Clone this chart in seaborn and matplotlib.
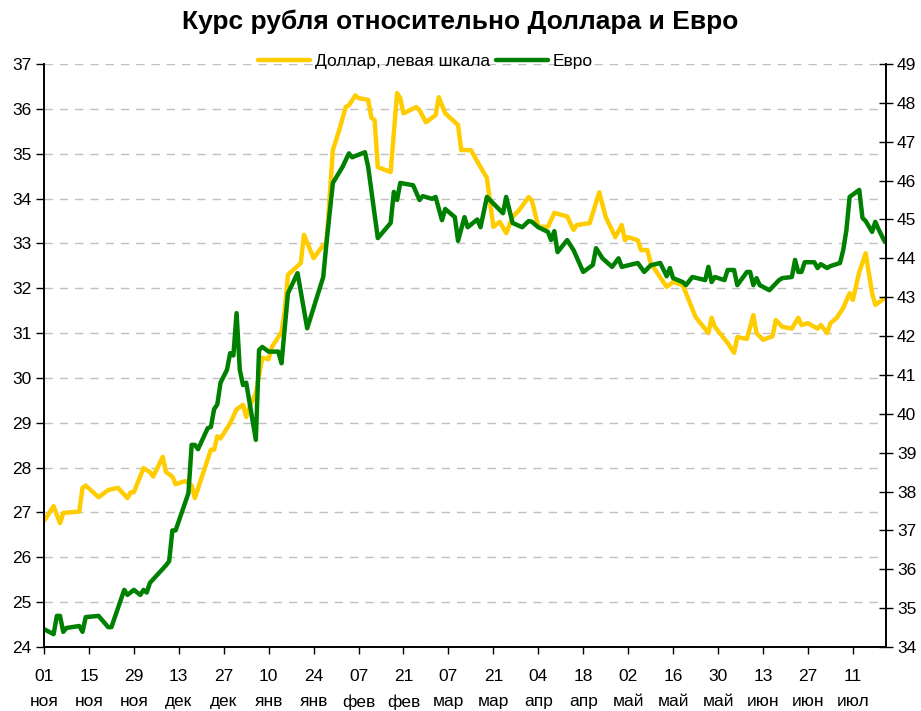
import pandas as pd
import numpy as np
import matplotlib
matplotlib.use('Agg')
import matplotlib.pyplot as plt
import seaborn as sns

# Курс доллара (левая шкала)
usd_dates = ['2008-11-01', '2008-11-04', '2008-11-06', '2008-11-07', '2008-11-12', '2008-11-13',
             '2008-11-14', '2008-11-18', '2008-11-21', '2008-11-24', '2008-11-27', '2008-11-28',
             '2008-11-29', '2008-12-02', '2008-12-04', '2008-12-05', '2008-12-08', '2008-12-09',
             '2008-12-11', '2008-12-12', '2008-12-15', '2008-12-17', '2008-12-18', '2008-12-23',
             '2008-12-24', '2008-12-25', '2008-12-26', '2008-12-29', '2008-12-31', '2009-01-02',
             '2009-01-03', '2009-01-04', '2009-01-06', '2009-01-08', '2009-01-10', '2009-01-11',
             '2009-01-14', '2009-01-15', '2009-01-16', '2009-01-20', '2009-01-21', '2009-01-24',
             '2009-01-27', '2009-01-28', '2009-01-30', '2009-02-01', '2009-02-03', '2009-02-04',
             '2009-02-06', '2009-02-07', '2009-02-10', '2009-02-11', '2009-02-12', '2009-02-13',
             '2009-02-17', '2009-02-19', '2009-02-20', '2009-02-21', '2009-02-25', '2009-02-26',
             '2009-02-28', '2009-03-03', '2009-03-04', '2009-03-06', '2009-03-10', '2009-03-11',
             '2009-03-14', '2009-03-17', '2009-03-19', '2009-03-21', '2009-03-23', '2009-03-25',
             '2009-03-27', '2009-03-29', '2009-04-01', '2009-04-02', '2009-04-04', '2009-04-07',
             '2009-04-09', '2009-04-13', '2009-04-15', '2009-04-16', '2009-04-20', '2009-04-23',
             '2009-04-25', '2009-04-28', '2009-04-30', '2009-05-01', '2009-05-02', '2009-05-05',
             '2009-05-06', '2009-05-08', '2009-05-09', '2009-05-14', '2009-05-16', '2009-05-19',
             '2009-05-23', '2009-05-27', '2009-05-28', '2009-05-29', '2009-06-02', '2009-06-04',
             '2009-06-05', '2009-06-08', '2009-06-10', '2009-06-11', '2009-06-13', '2009-06-16',
             '2009-06-17', '2009-06-19', '2009-06-22', '2009-06-24', '2009-06-25', '2009-06-27',
             '2009-06-30', '2009-07-01', '2009-07-03', '2009-07-04', '2009-07-06', '2009-07-08',
             '2009-07-10', '2009-07-11', '2009-07-13', '2009-07-15', '2009-07-17', '2009-07-18',
             '2009-07-21']
usd_values = [26.81, 27.14, 26.76, 26.99, 27.02, 27.55, 27.60, 27.34, 27.50, 27.55, 27.32, 27.45,
              27.45, 27.99, 27.90, 27.80, 28.24, 27.90, 27.80, 27.63, 27.70, 27.60, 27.32, 28.40,
              28.40, 28.70, 28.65, 28.99, 29.30, 29.40, 29.13, 29.35, 29.66, 30.45, 30.42, 30.69,
              31.02, 31.50, 32.30, 32.56, 33.19, 32.67, 32.96, 33.00, 35.08, 35.53, 36.04, 36.08,
              36.30, 36.24, 36.20, 35.80, 35.75, 34.70, 34.59, 36.35, 36.24, 35.90, 36.04, 35.97,
              35.70, 35.86, 36.26, 35.90, 35.64, 35.08, 35.08, 34.70, 34.46, 33.37, 33.48, 33.23,
              33.59, 33.74, 34.03, 33.96, 33.37, 33.37, 33.68, 33.60, 33.30, 33.41, 33.45, 34.14,
              33.59, 33.14, 33.41, 33.07, 33.14, 33.07, 32.85, 32.85, 32.56, 32.03, 32.14, 32.07,
              31.36, 31.00, 31.34, 31.14, 30.78, 30.56, 30.91, 30.87, 31.40, 31.00, 30.85, 30.93,
              31.29, 31.14, 31.10, 31.34, 31.18, 31.22, 31.10, 31.18, 31.00, 31.22, 31.34, 31.56,
              31.89, 31.74, 32.36, 32.78, 31.89, 31.63, 31.78]

# Курс евро (правая шкала)
eur_dates = ['2008-11-01', '2008-11-04', '2008-11-05', '2008-11-06', '2008-11-07', '2008-11-08',
             '2008-11-12', '2008-11-13', '2008-11-14', '2008-11-18', '2008-11-21', '2008-11-22',
             '2008-11-26', '2008-11-27', '2008-11-29', '2008-12-01', '2008-12-02', '2008-12-03',
             '2008-12-04', '2008-12-09', '2008-12-10', '2008-12-11', '2008-12-12', '2008-12-16',
             '2008-12-17', '2008-12-18', '2008-12-19', '2008-12-22', '2008-12-23', '2008-12-24',
             '2008-12-25', '2008-12-26', '2008-12-28', '2008-12-29', '2008-12-30', '2008-12-31',
             '2009-01-01', '2009-01-02', '2009-01-03', '2009-01-06', '2009-01-07', '2009-01-08',
             '2009-01-10', '2009-01-13', '2009-01-14', '2009-01-16', '2009-01-19', '2009-01-22',
             '2009-01-27', '2009-01-28', '2009-01-30', '2009-02-02', '2009-02-04', '2009-02-05',
             '2009-02-09', '2009-02-10', '2009-02-13', '2009-02-17', '2009-02-18', '2009-02-19',
             '2009-02-20', '2009-02-24', '2009-02-26', '2009-02-27', '2009-03-02', '2009-03-03',
             '2009-03-05', '2009-03-06', '2009-03-09', '2009-03-10', '2009-03-12', '2009-03-13',
             '2009-03-16', '2009-03-17', '2009-03-19', '2009-03-24', '2009-03-25', '2009-03-27',
             '2009-03-30', '2009-04-01', '2009-04-02', '2009-04-04', '2009-04-07', '2009-04-08',
             '2009-04-09', '2009-04-10', '2009-04-13', '2009-04-15', '2009-04-18', '2009-04-21',
             '2009-04-22', '2009-04-24', '2009-04-27', '2009-04-29', '2009-04-30', '2009-05-05',
             '2009-05-07', '2009-05-09', '2009-05-12', '2009-05-14', '2009-05-15', '2009-05-16',
             '2009-05-19', '2009-05-20', '2009-05-22', '2009-05-26', '2009-05-27', '2009-05-28',
             '2009-05-29', '2009-06-01', '2009-06-02', '2009-06-04', '2009-06-05', '2009-06-08',
             '2009-06-09', '2009-06-10', '2009-06-11', '2009-06-12', '2009-06-15', '2009-06-18',
             '2009-06-19', '2009-06-22', '2009-06-23', '2009-06-24', '2009-06-25', '2009-06-26',
             '2009-06-29', '2009-06-30', '2009-07-01', '2009-07-03', '2009-07-04', '2009-07-07',
             '2009-07-08', '2009-07-09', '2009-07-10', '2009-07-13', '2009-07-14', '2009-07-15',
             '2009-07-17', '2009-07-18', '2009-07-19', '2009-07-21']
eur_values = [34.46, 34.33, 34.80, 34.80, 34.39, 34.49, 34.54, 34.39, 34.77, 34.80, 34.51, 34.51,
              35.47, 35.34, 35.47, 35.34, 35.47, 35.40, 35.65, 36.10, 36.21, 37.00, 37.00, 37.96,
              39.20, 39.20, 39.09, 39.63, 39.66, 40.12, 40.24, 40.80, 41.13, 41.56, 41.50, 42.59,
              41.13, 40.74, 40.80, 39.33, 41.64, 41.72, 41.60, 41.60, 41.30, 43.10, 43.62, 42.20,
              43.52, 44.39, 45.94, 46.35, 46.70, 46.60, 46.73, 46.35, 44.52, 44.91, 45.71, 45.50,
              45.94, 45.88, 45.50, 45.60, 45.53, 45.58, 44.98, 45.27, 45.06, 44.45, 45.06, 44.80,
              45.00, 44.80, 45.58, 45.16, 45.58, 44.91, 44.80, 44.96, 44.94, 44.80, 44.68, 44.47,
              44.70, 44.16, 44.47, 44.21, 43.65, 43.83, 44.26, 44.00, 43.78, 44.00, 43.78, 43.88,
              43.65, 43.82, 43.88, 43.54, 43.75, 43.49, 43.39, 43.31, 43.52, 43.44, 43.78, 43.39,
              43.52, 43.44, 43.70, 43.70, 43.31, 43.65, 43.65, 43.31, 43.49, 43.31, 43.18, 43.44,
              43.49, 43.52, 43.96, 43.65, 43.65, 43.90, 43.90, 43.75, 43.85, 43.75, 43.80, 43.88,
              44.21, 44.73, 45.58, 45.76, 45.04, 44.96, 44.68, 44.94, 44.75, 44.42]

tick_days = ['01', '15', '29', '13', '27', '10', '24', '07', '21', '07', '21', '04', '18',
             '02', '16', '30', '13', '27', '11']
tick_months = ['ноя', 'ноя', 'ноя', 'дек', 'дек', 'янв', 'янв', 'фев', 'фев', 'мар', 'мар',
               'апр', 'апр', 'май', 'май', 'май', 'июн', 'июн', 'июл']

usd = pd.DataFrame({'date': pd.to_datetime(usd_dates), 'value': usd_values})
eur = pd.DataFrame({'date': pd.to_datetime(eur_dates), 'value': eur_values})

sns.set_style('white')
plt.rcParams['font.family'] = ['Liberation Sans', 'DejaVu Sans']
plt.rcParams['text.color'] = 'black'
plt.rcParams['xtick.color'] = 'black'
plt.rcParams['ytick.color'] = 'black'

fig = plt.figure(figsize=(9.21, 7.11), dpi=100)
ax = fig.add_axes([44 / 921, 1 - 647 / 711, (886 - 44) / 921, (647 - 64) / 711])
ax2 = ax.twinx()

sns.lineplot(data=usd, x='date', y='value', ax=ax, color='#FFCC00', linewidth=3.2,
             label='Доллар, левая шкала', legend=False)
sns.lineplot(data=eur, x='date', y='value', ax=ax2, color='#008000', linewidth=3.2,
             label='Евро', legend=False)

ax.set_xlim(pd.Timestamp('2008-11-01'), pd.Timestamp('2009-07-21 08:00'))
ax.set_ylim(24, 37)
ax2.set_ylim(34, 49)
ax.set_yticks(range(24, 38))
ax2.set_yticks(range(34, 50))

ticks = pd.date_range('2008-11-01', periods=len(tick_days), freq='14D')
ax.set_xticks(ticks)
ax.set_xticklabels([d + '\n' + m for d, m in zip(tick_days, tick_months)], linespacing=1.85)

ax.set_xlabel('')
ax.set_ylabel('')
ax2.set_ylabel('')

# сетка только по левой шкале
ax.grid(axis='y', color='#c0c0c0', linestyle=(0, (6, 5)), linewidth=1)
ax.grid(axis='x', visible=False)
ax2.grid(False)
ax.set_axisbelow(True)

for a in (ax, ax2):
    a.spines['top'].set_visible(False)
    for s in ('left', 'right', 'bottom'):
        a.spines[s].set_color('black')
        a.spines[s].set_linewidth(1.2)

ax.tick_params(axis='x', direction='out', length=5, width=1, color='black', labelsize=12.5,
               labelcolor='black', bottom=True, pad=11)
ax.tick_params(axis='y', direction='out', length=6, width=1, color='black', labelsize=12.5,
               labelcolor='black', left=True, pad=3)
ax2.tick_params(axis='y', direction='inout', length=10, width=1, color='black', labelsize=12.5,
                labelcolor='black', right=True, pad=3)

handles = ax.get_lines()[:1] + ax2.get_lines()[:1]
labels = ['Доллар, левая шкала', 'Евро']
fig.legend(handles, labels, loc='center', bbox_to_anchor=(0.462, 0.913), ncol=2, frameon=False,
           fontsize=12.5, handlelength=3.0, handletextpad=0.3, columnspacing=0.3)

fig.suptitle('Курс рубля относительно Доллара и Евро', fontsize=19, fontweight='bold',
             color='black', y=1 - 22 / 711, va='center')

fig.savefig('out.png', dpi=100)
